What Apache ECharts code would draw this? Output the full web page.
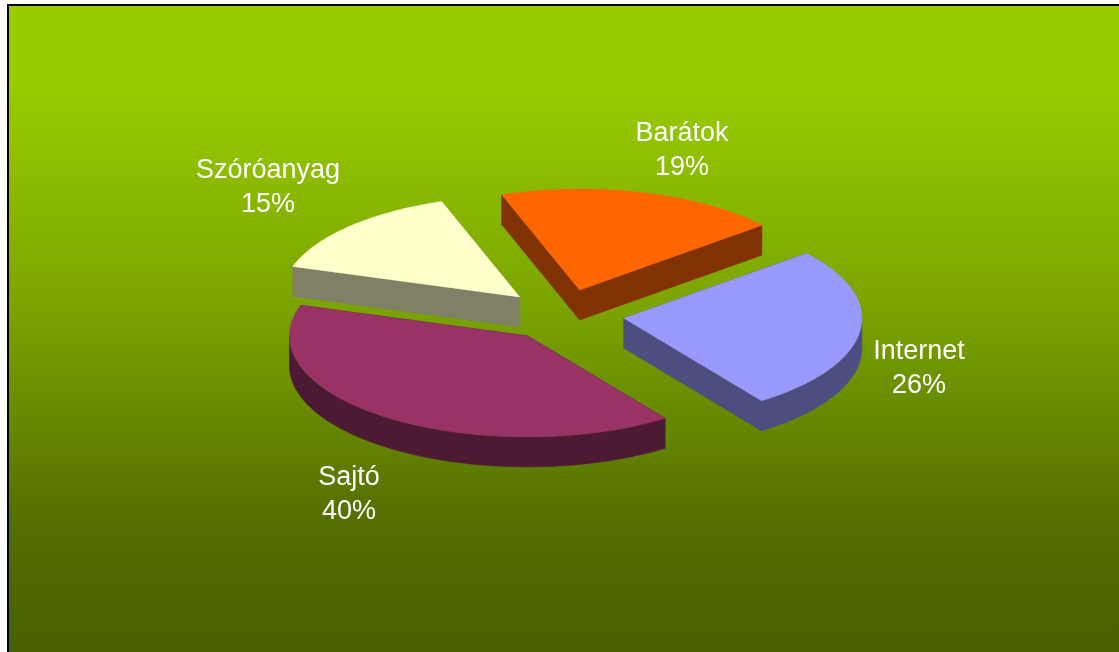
<!DOCTYPE html>
<html>
<head>
<meta charset="utf-8">
<style>html,body{margin:0;padding:0;background:#fff;overflow:hidden}#c{width:1119px;height:652px}</style>
<script src="https://cdn.jsdelivr.net/npm/echarts@6/dist/echarts.min.js"></script>
</head>
<body>
<div id="c"></div>
<script>
// Data (clockwise from the Internet slice)
var categories = ['Internet', 'Sajtó', 'Szóróanyag', 'Barátok'];
var shares = [26.3, 39.7, 14.8, 19.2];
var topColors = ['#9999FF', '#993366', '#FFFFCC', '#FF6600'];
var wallColors = ['#4D4D80', '#4D1A33', '#808066', '#803300'];
// Per-slice label anchor (pixels) – layout only
var labelAnchors = [[919, 369], [349, 495], [268, 188], [682, 151]];

var CX = 563.4, CY = 315, RX = 238, RY = 101, DEPTH = 30, EXPLODE = 61;
var START_DEG = 40; // parametric angle where the first slice starts, going clockwise
var FONT = 'Arial, "Liberation Sans", sans-serif';

var total = shares.reduce(function (a, b) { return a + b; }, 0);
var rad = Math.PI / 180;
var cursor = START_DEG;
var slices = shares.map(function (v) {
  var a0 = cursor, a1 = cursor - v / total * 360;
  cursor = a1;
  return [a0, a1];
});

function arcPts(ox, oy, a0, a1, dy) {
  var pts = [], n = Math.max(2, Math.ceil(Math.abs(a0 - a1) / 1));
  for (var i = 0; i <= n; i++) {
    var t = (a0 + (a1 - a0) * i / n) * rad;
    pts.push([ox + RX * Math.cos(t), oy - RY * Math.sin(t) + dy]);
  }
  return pts;
}
function poly(points, fill, z) {
  return { type: 'polygon', shape: { points: points }, style: { fill: fill, stroke: fill, lineWidth: 0.5 }, z2: z };
}
function renderSlice(params, api) {
  var i = params.dataIndex;
  var a0 = slices[i][0], a1 = slices[i][1], mid = (a0 + a1) / 2 * rad;
  var ox = CX + EXPLODE * Math.cos(mid);
  var oy = CY - EXPLODE * RY / RX * Math.sin(mid);
  var kids = [];
  var apex = [ox, oy], apexB = [ox, oy + DEPTH];
  var rim0 = arcPts(ox, oy, a0, a0, 0)[0], rim1 = arcPts(ox, oy, a1, a1, 0)[0];
  // radial walls
  kids.push(poly([apex, rim0, [rim0[0], rim0[1] + DEPTH], apexB], wallColors[i], 1));
  kids.push(poly([apex, rim1, [rim1[0], rim1[1] + DEPTH], apexB], wallColors[i], 1));
  // outer curved wall: only the part facing the viewer (angles between -180 and 0)
  var lo = Math.max(a1, -180), hi = Math.min(a0, 0);
  if (hi > lo) {
    var top = arcPts(ox, oy, hi, lo, 0);
    var bottom = arcPts(ox, oy, lo, hi, DEPTH);
    kids.push(poly(top.concat(bottom), wallColors[i], 2));
  }
  // top face
  kids.push(poly([apex].concat(arcPts(ox, oy, a0, a1, 0)), topColors[i], 3));
  // label
  kids.push({
    type: 'text', z2: 4,
    style: {
      x: labelAnchors[i][0], y: labelAnchors[i][1],
      text: categories[i] + '\n' + Math.round(api.value(0)) + '%',
      fill: '#fff', font: '27px ' + FONT, lineHeight: 34,
      align: 'center', verticalAlign: 'middle'
    }
  });
  return { type: 'group', children: kids };
}

var chart = echarts.init(document.getElementById('c'), null, { renderer: 'canvas' });
chart.setOption({
  animation: false,
  backgroundColor: 'transparent',
  graphic: [
    { type: 'rect', z: -2, silent: true, shape: { x: 7, y: 4, width: 1112, height: 648 }, style: { fill: '#000' } },
    { type: 'rect', z: -1, silent: true, shape: { x: 9, y: 6, width: 1110, height: 646 },
      style: { fill: new echarts.graphic.LinearGradient(0, 0, 0, 1, [
        { offset: 0, color: '#99CC00' }, { offset: 0.12, color: '#99CC00' },
        { offset: 0.47, color: '#7AA300' }, { offset: 0.64, color: '#668800' },
        { offset: 0.8, color: '#546E00' }, { offset: 1, color: '#486000' }
      ]) } }
  ],
  series: [{
    type: 'custom',
    coordinateSystem: 'none',
    renderItem: renderSlice,
    data: shares.map(function (v, i) { return { name: categories[i], value: [v] }; })
  }]
});
</script>
</body>
</html>
